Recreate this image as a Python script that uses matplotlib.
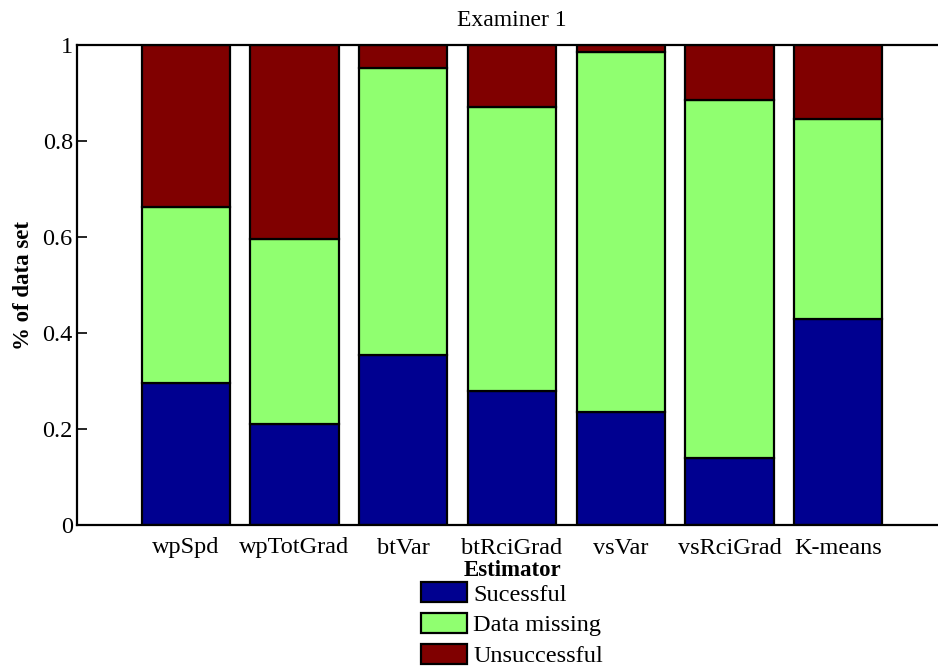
import matplotlib
matplotlib.use('Agg')
import matplotlib.pyplot as plt
import numpy as np

estimators = ['wpSpd', 'wpTotGrad', 'btVar', 'btRciGrad', 'vsVar', 'vsRciGrad', 'K-means']
successful = [0.296, 0.210, 0.354, 0.279, 0.235, 0.140, 0.429]
data_missing = [0.367, 0.386, 0.598, 0.592, 0.750, 0.745, 0.417]
unsuccessful = [0.337, 0.404, 0.048, 0.129, 0.015, 0.115, 0.154]

plt.rcParams['font.family'] = ['Liberation Serif', 'DejaVu Serif']

fig = plt.figure(figsize=(9.38, 6.69), dpi=100)
ax = fig.add_axes([77 / 938, 1 - 525 / 669, 870 / 938, 480 / 669])

x = np.arange(1, len(estimators) + 1)
s = np.array(successful)
m = np.array(data_missing)
u = np.array(unsuccessful)
kw = dict(width=0.81, edgecolor='black', linewidth=1.6)
ax.bar(x, s, color='#000090', label='Sucessful', **kw)
ax.bar(x, m, bottom=s, color='#90FF70', label='Data missing', **kw)
ax.bar(x, u, bottom=s + m, color='#800000', label='Unsuccessful', **kw)

ax.set_xlim(0, 8)
ax.set_ylim(0, 1)
ax.set_xticks(x)
ax.set_xticklabels(estimators, fontsize=17.5)
ax.set_yticks([0, 0.2, 0.4, 0.6, 0.8, 1])
ax.set_yticklabels(['0', '0.2', '0.4', '0.6', '0.8', '1'], fontsize=17.5)
ax.tick_params(axis='y', direction='in', length=7, width=1.2, pad=3)
ax.tick_params(axis='x', length=0, pad=9)
for sp in ax.spines.values():
    sp.set_linewidth(1.6)

ax.set_title('Examiner 1', fontsize=17, pad=14)
ax.set_ylabel('% of data set', fontsize=16.5, fontweight='bold', labelpad=6)
ax.set_xlabel('Estimator', fontsize=16.5, fontweight='bold', labelpad=1)

ax.legend(loc='upper center', bbox_to_anchor=(512 / 938, 1 - 570 / 669), bbox_transform=fig.transFigure,
          frameon=False, fontsize=17.5, handlelength=1.9, handleheight=0.9,
          handletextpad=0.25, labelspacing=0.3, borderpad=0)

fig.savefig('out.png', dpi=100)
